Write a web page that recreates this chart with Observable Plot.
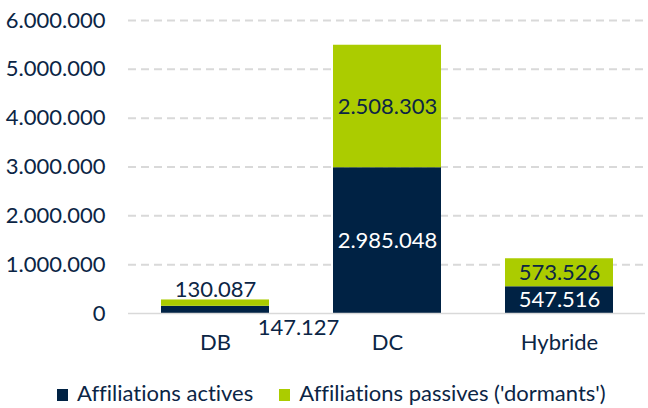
<!DOCTYPE html>
<html><head><meta charset="utf-8">
<script src="https://cdn.jsdelivr.net/npm/d3@7"></script>
<script src="https://cdn.jsdelivr.net/npm/@observablehq/plot@0.6"></script>
<style>
html,body{margin:0;background:#fff;font-family:Lato,sans-serif;font-variant-ligatures:none;overflow:hidden;}
#wrap{position:relative;width:648px;height:408px;}
#legend{position:absolute;left:57px;top:381px;height:24px;display:flex;align-items:center;font-size:22px;line-height:24px;color:#0b2545;white-space:nowrap;}
#legend span.sw{display:inline-block;width:11px;height:12px;margin-right:9px;margin-top:3px;}
svg text{font-variant-ligatures:none;}
</style></head><body>
<div id="wrap"><div id="chart"></div>
<div id="legend"><span class="sw" style="background:#002244"></span><span>Affiliations actives</span><span class="sw" style="background:#abcc00;margin-left:26px;"></span><span>Affiliations passives ('dormants')</span></div>
</div>
<script>
const categories = ["DB", "DC", "Hybride"];
const series = ["Affiliations actives", "Affiliations passives ('dormants')"];
const actives = [147127, 2985048, 547516];
const passives = [130087, 2508303, 573526];
const yTicks = [0, 1000000, 2000000, 3000000, 4000000, 5000000, 6000000];

const fmt = d3.formatLocale({thousands: ".", decimal: ",", grouping: [3], currency: ["", ""]}).format(",d");
const data = [];
categories.forEach((c, i) => {
  data.push({cat: c, series: series[0], value: actives[i]});
  data.push({cat: c, series: series[1], value: passives[i]});
});
const navy = "#002244", lime = "#abcc00", ink = "#0b2545";

const inside = data.filter(d => d.cat !== "DB");
const dbPassive = data.filter(d => d.cat === "DB" && d.series === series[1]).map(d => ({...d, top: d.value + actives[0]}));
const dbActive = data.filter(d => d.cat === "DB" && d.series === series[0]);

const plot = Plot.plot({
  width: 648, height: 378,
  marginLeft: 128, marginRight: 3, marginTop: 20, marginBottom: 65,
  style: {fontFamily: "Lato, sans-serif", fontSize: "22px", color: ink, background: "#fff"},
  x: {domain: categories, range: [129, 645], paddingInner: 0.372, paddingOuter: 0.186, label: null},
  y: {domain: [0, 6000000], label: null},
  color: {domain: series, range: [navy, lime]},
  marks: [
    Plot.ruleY(yTicks.filter(t => t > 0), {stroke: "#d9d9d9", strokeWidth: 2, strokeDasharray: "8,5"}),
    Plot.barY(data, Plot.stackY({x: "cat", y: "value", fill: "series", order: series})),
    Plot.ruleY([0], {stroke: "#d9d9d9", strokeWidth: 1.5}),
    Plot.text(inside, Plot.stackY({x: "cat", y: "value", z: "series", order: series, text: d => fmt(d.value),
      fill: d => d.series === series[0] ? "#ffffff" : ink, fontSize: 22})),
    Plot.text(dbPassive, {x: "cat", y: "top", text: d => fmt(d.value), fill: ink, fontSize: 22, dy: -10}),
    Plot.text(dbActive, {x: "cat", y: () => 0, text: d => fmt(d.value), fill: ink, fontSize: 22, dx: 83, dy: 14}),
    Plot.axisY({ticks: yTicks, tickSize: 0, tickPadding: 23, tickFormat: fmt, fontSize: 22}),
    Plot.axisX({tickSize: 0, tickPadding: 21, fontSize: 22})
  ]
});
document.getElementById("chart").appendChild(plot);
</script>
</body></html>
